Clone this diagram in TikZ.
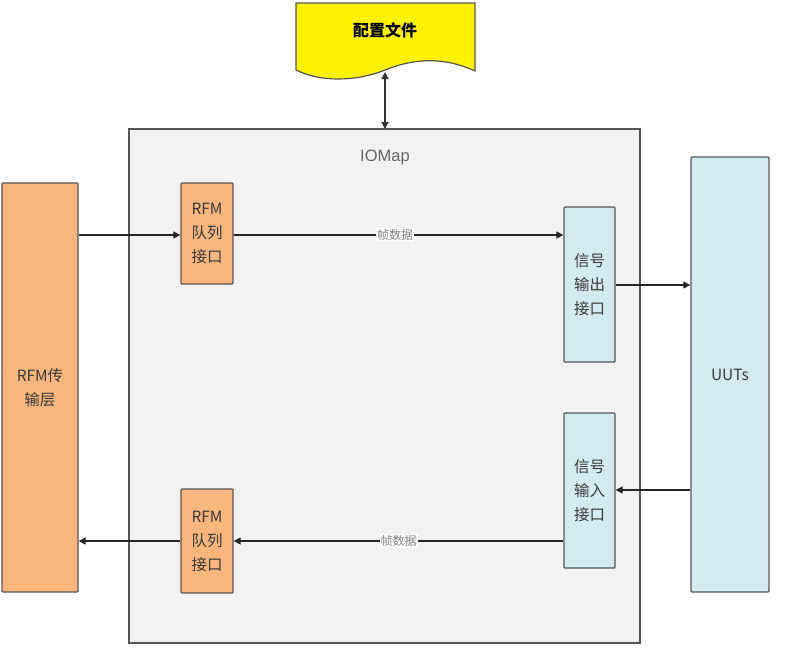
\documentclass[tikz,border=0pt]{standalone}
\usepackage{fontspec}
\setmainfont{Liberation Sans}
\newfontfamily\cjk{Noto Sans CJK SC}
\usetikzlibrary{arrows.meta}
\definecolor{orangefill}{HTML}{F8B67C}
\definecolor{bluefill}{HTML}{D3EBF0}
\definecolor{greyfill}{HTML}{F2F2F2}
\definecolor{edge}{HTML}{555555}
\definecolor{txt}{HTML}{3A3A3A}
\tikzset{
  x=1pt,y=-1pt,
  blk/.style={draw=edge,line width=1.3pt,rounded corners=1pt,text=txt,align=center,font=\fontsize{15.5}{24}\selectfont\cjk,inner sep=0pt},
  orangebox/.style={blk,fill=orangefill},
  bluebox/.style={blk,fill=bluefill},
  conn/.style={draw=black!85,line width=1.2pt,-{Triangle[length=7pt,width=7pt]}},
  lbl/.style={fill=white,text=black!50,font=\fontsize{12}{13}\selectfont\cjk,inner sep=1pt},
}
\begin{document}
\begin{tikzpicture}
\useasboundingbox (0,0) rectangle (788,648);
\fill[white] (0,0) rectangle (788,648);
% IOMap container
\draw[draw=edge,line width=1.5pt,fill=greyfill] (129,129) rectangle (640,643);
\node[text=black!60,font=\fontsize{16.5}{18}\selectfont] (iomap) at (385,157) {IOMap};
% document
\draw[draw=edge,line width=1.2pt,fill=yellow] (296,3) -- (475,3) -- (475,71)
  .. controls (440,55) and (410,60) .. (385,70)
  .. controls (355,82) and (320,82) .. (296,70) -- cycle;
\node[font=\fontsize{16}{18}\selectfont\cjk\bfseries] (cfg) at (385,30) {配置文件};
\coordinate (cfgb) at (385,72);
\coordinate (iotop) at (385,129);
\draw[draw=black!80,line width=1.2pt,{Triangle[length=7pt,width=7pt]}-{Triangle[length=7pt,width=7pt]}] (cfgb) -- (iotop);
% blocks
\node[orangebox,minimum width=76pt,minimum height=409pt] (rfm) at (40,387.5) {RFM传\\输层};
\node[orangebox,minimum width=52pt,minimum height=101pt] (q1) at (207,233.5) {RFM\\队列\\接口};
\node[orangebox,minimum width=52pt,minimum height=104pt] (q2) at (207,541) {RFM\\队列\\接口};
\node[bluebox,minimum width=51pt,minimum height=155pt] (out) at (589.5,284.5) {信号\\输出\\接口};
\node[bluebox,minimum width=51pt,minimum height=155pt] (in) at (589.5,490.5) {信号\\输入\\接口};
\node[bluebox,minimum width=78pt,minimum height=435pt] (uut) at (730,374.5) {UUTs};
% connectors
\draw[conn] (rfm.east |- 0,235) -- (q1.west |- 0,235);
\draw[conn] (q1.east |- 0,235) -- node[lbl,pos=0.49] {帧数据} (out.west |- 0,235);
\draw[conn] (out.east |- 0,285) -- (uut.west |- 0,285);
\draw[conn] (uut.west |- 0,490) -- (in.east |- 0,490);
\draw[conn] (in.west |- 0,541) -- node[lbl,pos=0.50] {帧数据} (q2.east |- 0,541);
\draw[conn] (q2.west |- 0,541) -- (rfm.east |- 0,541);
\end{tikzpicture}
\end{document}
